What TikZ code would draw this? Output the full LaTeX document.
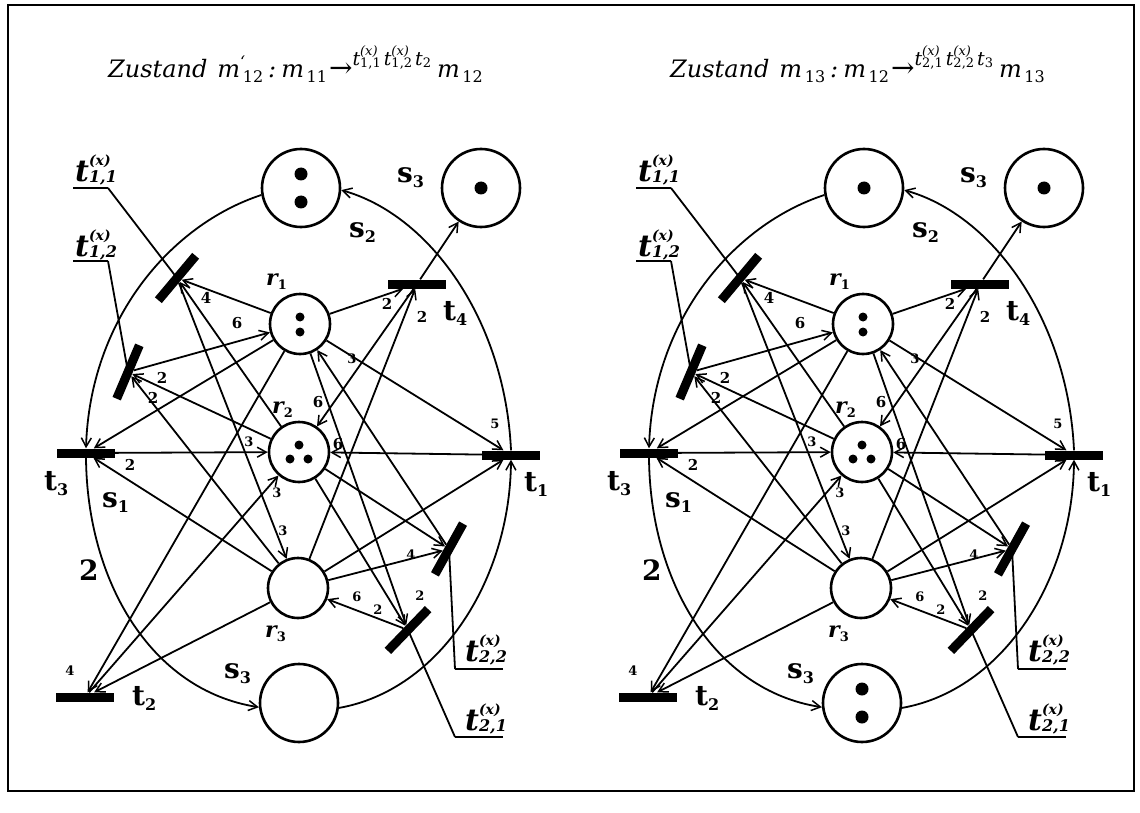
\documentclass[tikz,border=0pt]{standalone}
\usepackage{fontspec}
\setmainfont{DejaVu Serif}
\usetikzlibrary{arrows.meta}

\newcommand\psub[1]{\raisebox{-5pt}{\fontsize{16}{16}\selectfont\upshape #1}}
\newcommand\rsub[1]{\raisebox{-4pt}{\fontsize{13}{13}\selectfont\upshape #1}}
\newcommand\tlabx[1]{t\rlap{\raisebox{16pt}{\fontsize{14}{14}\selectfont(x)}}\raisebox{-1pt}{\fontsize{16}{16}\selectfont #1}}
\newcommand\tsb[1]{\raisebox{-5pt}{\fontsize{16}{16}\selectfont\upshape\,#1}}
\newcommand\ttx[1]{t\rlap{\raisebox{10pt}{\fontsize{13}{13}\selectfont(x)}}\raisebox{-2pt}{\fontsize{13}{13}\selectfont\upshape #1}\hspace{3pt}}
\newcommand\tgrp[3]{\raisebox{12pt}{\fontsize{19}{19}\selectfont\itshape \ttx{#1}\ttx{#2}t\raisebox{-2pt}{\fontsize{13}{13}\selectfont\upshape #3}}}
\newcommand\bigarrow{{\upshape\fontsize{28}{28}\selectfont →}}

\tikzset{
  place/.style={circle, draw, line width=2.6pt, minimum size=78pt, inner sep=0pt},
  rplace/.style={circle, draw, line width=2.6pt, minimum size=60pt, inner sep=0pt},
  tbar/.style={rectangle, fill=black, minimum width=58pt, minimum height=9pt, inner sep=0pt},
  pnarc/.style={line width=1.8pt, -{Straight Barb[length=9pt,width=10pt,line width=1.5pt]}},
  leader/.style={line width=1.8pt},
  uline/.style={line width=2.6pt},
  tok/.style={circle, fill=black, inner sep=0pt, minimum size=#1},
  slab/.style={anchor=base west, inner sep=0pt, font=\fontsize{28}{28}\selectfont\bfseries},
  rlab/.style={anchor=base west, inner sep=0pt, font=\fontsize{22}{22}\selectfont\bfseries\itshape},
  wt/.style={inner sep=0pt, font=\fontsize{15}{15}\selectfont\bfseries},
  wts/.style={inner sep=0pt, font=\fontsize{13}{13}\selectfont\bfseries},
  xlab/.style={anchor=base west, inner sep=0pt, font=\fontsize{30}{30}\selectfont\bfseries\itshape},
  ttl/.style={anchor=base west, inner sep=0pt, font=\fontsize{24}{24}\selectfont\itshape},
}

\newcommand\petri[1]{%
  \node[place] (#1s2) at (301,188) {};
  \node[place] (#1s3t) at (481,188) {};
  \node[place] (#1s3b) at (299,703) {};
  \node[rplace] (#1r1) at (300,324) {};
  \node[rplace] (#1r2) at (299,452) {};
  \node[rplace] (#1r3) at (298,588) {};
  % oval
  \draw[pnarc] (#1s2.190) .. controls (170,225) and (90,320) .. (#1t3.north);
  \draw[pnarc] (#1t3.south) .. controls (87,580) and (150,690) .. (#1s3b.186);
  \draw[pnarc] (#1s3b.353) .. controls (440,690) and (510,580) .. (#1t1.south);
  \draw[pnarc] (#1t1.north) .. controls (505,320) and (430,215) .. (#1s2.357);
  % arcs
  \draw[pnarc] (#1r1) -- (#1t11);
  \draw[pnarc] (#1r2) -- (#1t11);
  \draw[pnarc] (#1t11) -- (#1r3);
  \draw[pnarc] (#1t12) -- (#1r1);
  \draw[pnarc] (#1r2) -- (#1t12);
  \draw[pnarc] (#1r3) -- (#1t12);
  \draw[pnarc] (#1r1) -- (#1t3);
  \draw[pnarc] (#1t3) -- (#1r2);
  \draw[pnarc] (#1r3) -- (#1t3);
  \draw[pnarc] (#1r1) -- (#1t2);
  \draw[pnarc] (#1r3) -- (#1t2);
  \draw[pnarc] (#1t2) -- (#1r2);
  \draw[pnarc] (#1r1) -- (#1t4);
  \draw[pnarc] (#1r3) -- (#1t4);
  \draw[pnarc] (#1t4) -- (#1r2);
  \draw[pnarc] (#1t4) -- (#1s3t);
  \draw[pnarc] (#1r1) -- (#1t1);
  \draw[pnarc] (#1t1) -- (#1r2);
  \draw[pnarc] (#1r3) -- (#1t1);
  \draw[pnarc] (#1r2) -- (#1t22);
  \draw[pnarc] (#1r3) -- (#1t22);
  \draw[pnarc] (#1t22) -- (#1r1);
  \draw[pnarc] (#1r2) -- (#1t21);
  \draw[pnarc] (#1r1) -- (#1t21);
  \draw[pnarc] (#1t21) -- (#1r3);
  % leaders
  \coordinate (#1a11) at (73,188); \coordinate (#1b11) at (108,188);
  \coordinate (#1a12) at (73,261); \coordinate (#1b12) at (108,261);
  \coordinate (#1a22) at (503,669); \coordinate (#1b22) at (455,669);
  \coordinate (#1a21) at (503,737); \coordinate (#1b21) at (455,737);
  \draw[uline] (#1a11) -- (#1b11); \draw[leader] (#1b11) -- (#1t11.center);
  \draw[uline] (#1a12) -- (#1b12); \draw[leader] (#1b12) -- (#1t12.center);
  \draw[uline] (#1a22) -- (#1b22); \draw[leader] (#1b22) -- (#1t22.center);
  \draw[uline] (#1a21) -- (#1b21); \draw[leader] (#1b21) -- (#1t21.center);
  % labels
  \node[xlab] (#1lt11) at (75,182) {\tlabx{1,1}};
  \node[xlab] (#1lt12) at (75,256) {\tlabx{1,2}};
  \node[xlab] (#1lt22) at (465,661) {\tlabx{2,2}};
  \node[xlab] (#1lt21) at (465,730) {\tlabx{2,1}};
  \node[slab] (#1ls2) at (349,237) {s\psub{2}};
  \node[slab] (#1ls3t) at (397,183) {s\psub{3}};
  \node[slab] (#1ls1) at (102,507) {s\psub{1}};
  \node[slab] (#1ls3b) at (224,678) {s\psub{3}};
  \node[slab] (#1lt3) at (44,490) {t\psub{3}};
  \node[slab] (#1lt2) at (132,705) {t\psub{2}};
  \node[slab] (#1lt1) at (524,491) {t\psub{1}};
  \node[slab] (#1lt4) at (443,320) {t\psub{4}};
  \node[slab] (#1ltwo) at (79,580) {2};
  \node[rlab] (#1lr1) at (266,285) {r\rsub{1}};
  \node[rlab] (#1lr2) at (272,413) {r\rsub{2}};
  \node[rlab] (#1lr3) at (265,637) {r\rsub{3}};
  % weights
  \node[wt] (#1w1) at (206,298) {4};
  \node[wts] (#1w2) at (283,531) {3};
  \node[wt] (#1w3) at (237,323) {6};
  \node[wt] (#1w4) at (162,378) {2};
  \node[wt] (#1w5) at (153,398) {2};
  \node[wt] (#1w6) at (130,465) {2};
  \node[wts] (#1w7) at (249,442) {3};
  \node[wts] (#1w8) at (277,493) {3};
  \node[wts] (#1w9) at (70,671) {4};
  \node[wt] (#1w10) at (387,304) {2};
  \node[wt] (#1w11) at (422,317) {2};
  \node[wt] (#1w12) at (318,402) {6};
  \node[wts] (#1w13) at (495,424) {5};
  \node[wt] (#1w14) at (338,444) {6};
  \node[wts] (#1w15) at (411,555) {4};
  \node[wts] (#1w16) at (352,359) {3};
  \node[wts] (#1w17) at (378,610) {2};
  \node[wts] (#1w18) at (420,596) {2};
  \node[wts] (#1w19) at (357,597) {6};
}

\begin{document}
\begin{tikzpicture}[x=1pt,y=-1pt]
\useasboundingbox (0,0) rectangle (1140,813);
\draw[line width=1.6pt] (8,5) rectangle (1134,791);
\foreach \p/\dx in {L/0,R/563} {
  \begin{scope}[xshift=\dx pt]
  \node[tbar] (\p t3) at (86,453) {};
  \node[tbar] (\p t1) at (511,455) {};
  \node[tbar] (\p t4) at (417,284) {};
  \node[tbar] (\p t2) at (85,697) {};
  \node[tbar,rotate=50] (\p t11) at (177,278) {};
  \node[tbar,rotate=67] (\p t12) at (128,372) {};
  \node[tbar,rotate=61] (\p t22) at (449,549) {};
  \node[tbar,rotate=46] (\p t21) at (408,630) {};
  \end{scope}
}
\petri{L}
\begin{scope}[xshift=563pt]
\petri{R}
\end{scope}
% titles
\node[ttl] (titleL) at (108,78) {Zustand\hspace{10pt}m\rlap{\raisebox{10pt}{\fontsize{16}{16}\selectfont\symbol{"60}}}\tsb{12}\hspace{5pt}:\hspace{5pt}m\tsb{11}\hspace{2pt}\bigarrow\tgrp{1,1}{1,2}{2}\hspace{6pt}m\tsb{12}};
\node[ttl] (titleR) at (670,78) {Zustand\hspace{10pt}m\tsb{13}\hspace{5pt}:\hspace{5pt}m\tsb{12}\hspace{2pt}\bigarrow\tgrp{2,1}{2,2}{3}\hspace{6pt}m\tsb{13}};
% tokens left
\node[tok=13pt] (Lk1) at (301,174) {};
\node[tok=13pt] (Lk2) at (301,202) {};
\node[tok=13pt] (Lk3) at (481,188) {};
\node[tok=9pt] (Lk4) at (300,317) {};
\node[tok=9pt] (Lk5) at (300,332) {};
\node[tok=9pt] (Lk6) at (299,445) {};
\node[tok=9pt] (Lk7) at (290,459) {};
\node[tok=9pt] (Lk8) at (308,459) {};
% tokens right
\begin{scope}[xshift=563pt]
\node[tok=13pt] (Rk1) at (301,188) {};
\node[tok=13pt] (Rk3) at (481,188) {};
\node[tok=9pt] (Rk4) at (300,317) {};
\node[tok=9pt] (Rk5) at (300,332) {};
\node[tok=9pt] (Rk6) at (299,445) {};
\node[tok=9pt] (Rk7) at (290,459) {};
\node[tok=9pt] (Rk8) at (308,459) {};
\node[tok=13pt] (Rk9) at (299,689) {};
\node[tok=13pt] (Rk10) at (299,717) {};
\end{scope}
\end{tikzpicture}
\end{document}
